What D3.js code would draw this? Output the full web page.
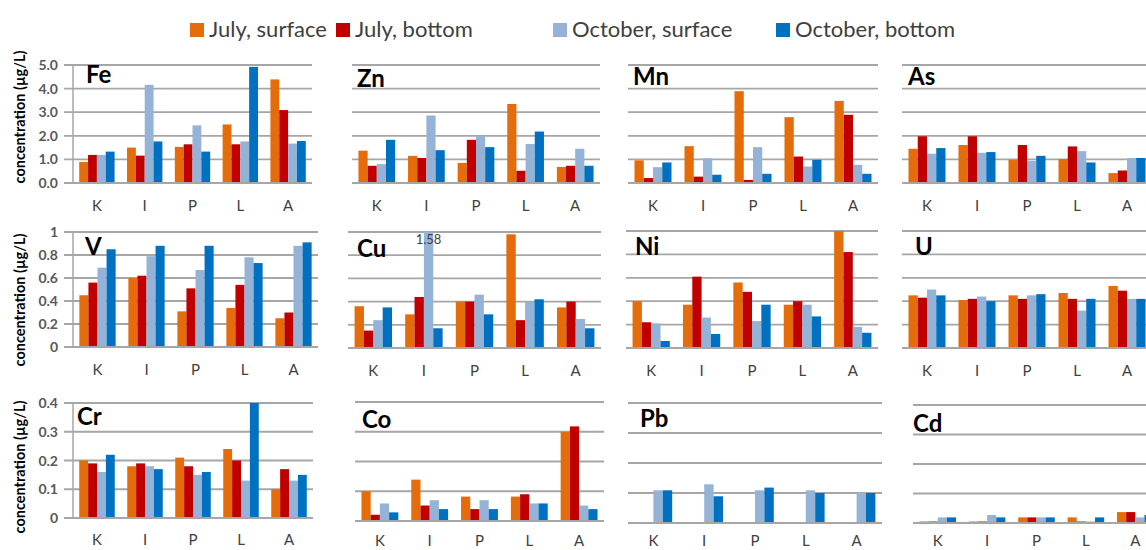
<!DOCTYPE html>
<html>
<head>
<meta charset="utf-8">
<script src="https://cdn.jsdelivr.net/npm/d3@7"></script>
<style>
  body { margin: 0; background: #fff; }
  text { font-family: Lato, "Open Sans", sans-serif; }
</style>
</head>
<body>
<svg id="chart" width="1146" height="550"></svg>
<script>
// data
const sites = ['K', 'I', 'P', 'L', 'A'];
const seriesNames = ['July, surface', 'July, bottom', 'October, surface', 'October, bottom'];
const elements = ['Fe', 'Zn', 'Mn', 'As', 'V', 'Cu', 'Ni', 'U', 'Cr', 'Co', 'Pb', 'Cd'];

// each element: one row per series, values for K I P L A
const fe = [[0.89, 1.50, 1.53, 2.48, 4.39], [1.19, 1.16, 1.64, 1.64, 3.09], [1.19, 4.16, 2.44, 1.76, 1.67], [1.33, 1.76, 1.33, 4.92, 1.78]];
const zn = [[1.37, 1.15, 0.85, 3.35, 0.68], [0.73, 1.06, 1.83, 0.52, 0.73], [0.80, 2.86, 1.99, 1.65, 1.45], [1.83, 1.39, 1.52, 2.18, 0.73]];
const mn = [[0.96, 1.56, 3.89, 2.79, 3.48], [0.21, 0.27, 0.13, 1.12, 2.89], [0.67, 1.05, 1.52, 0.70, 0.77], [0.87, 0.35, 0.39, 0.98, 0.39]];
const as = [[1.45, 1.61, 0.98, 1.01, 0.42], [1.98, 1.98, 1.61, 1.55, 0.53], [1.24, 1.28, 0.94, 1.35, 1.06], [1.48, 1.31, 1.15, 0.87, 1.06]];
const v = [[0.45, 0.60, 0.31, 0.34, 0.25], [0.56, 0.62, 0.51, 0.54, 0.30], [0.69, 0.79, 0.67, 0.78, 0.88], [0.85, 0.88, 0.88, 0.73, 0.91]];
const cu = [[0.36, 0.29, 0.40, 0.98, 0.35], [0.15, 0.44, 0.40, 0.24, 0.40], [0.24, 1.58, 0.46, 0.40, 0.25], [0.35, 0.17, 0.29, 0.42, 0.17]];
const ni = [[0.40, 0.37, 0.56, 0.37, 1.00], [0.22, 0.61, 0.48, 0.40, 0.82], [0.21, 0.26, 0.23, 0.37, 0.18], [0.06, 0.12, 0.37, 0.27, 0.13]];
const u = [[0.45, 0.41, 0.45, 0.47, 0.53], [0.43, 0.42, 0.42, 0.42, 0.49], [0.50, 0.44, 0.45, 0.32, 0.42], [0.45, 0.40, 0.46, 0.42, 0.42]];
const cr = [[0.20, 0.18, 0.21, 0.24, 0.10], [0.19, 0.19, 0.18, 0.20, 0.17], [0.16, 0.18, 0.15, 0.13, 0.13], [0.22, 0.17, 0.16, 0.40, 0.15]];
const co = [[0.100, 0.139, 0.082, 0.082, 0.300], [0.021, 0.052, 0.040, 0.090, 0.318], [0.059, 0.070, 0.070, 0.059, 0.052], [0.029, 0.040, 0.040, 0.059, 0.040]];
const pb = [[0, 0, 0, 0, 0], [0, 0, 0, 0, 0], [0.109, 0.129, 0.109, 0.109, 0.100], [0.109, 0.089, 0.118, 0.100, 0.100]];
const cd = [[0.005, 0.005, 0.019, 0.019, 0.037], [0.005, 0.005, 0.019, 0.005, 0.037], [0.019, 0.027, 0.019, 0.005, 0.019], [0.019, 0.019, 0.019, 0.019, 0.027]];
const values = [fe, zn, mn, as, v, cu, ni, u, cr, co, pb, cd];

// y axis per row
const rowMax = [5, 1, 0.4];
const rowTicks = [[0, 1, 2, 3, 4, 5], [0, 0.2, 0.4, 0.6, 0.8, 1], [0, 0.1, 0.2, 0.3, 0.4]];
const rowTickFormat = [d3.format('.1f'), d => d === 0 || d === 1 ? String(d) : d3.format('.1f')(d), d => d === 0 ? '0' : d3.format('.1f')(d)];

const colors = ['#E46C0A', '#C00000', '#95B3D7', '#0070C0'];

// layout: plot box of each panel [x0, x1, yTop, yBottom]
const boxes = [
    [73, 312, 65, 183], [352, 600, 65, 183], [628, 878, 65, 183], [902, 1152, 65, 183],
    [73, 318, 232, 347], [348, 601, 232, 348], [626, 878, 231, 348], [902, 1152, 231, 348],
    [73, 313, 403, 518], [355, 604, 402, 521], [628, 882, 403, 523], [913, 1160, 405, 523]
];
// title baseline position
const titlePos = [
    [86, 83], [357, 87], [633, 85], [908, 85],
    [85, 255], [357, 257], [635, 255], [915, 255],
    [77, 425], [362, 428], [640, 427], [913, 432]
];
const yTitleCenter = [117, 300, 467];

const svg = d3.select('#chart');
const gridColor = '#A6A6A6';

elements.forEach((el, i) => {
    const row = Math.floor(i / 4), col = i % 4;
    const [x0, x1, y0, y1] = boxes[i];
    const g = svg.append('g').attr('class', 'panel');

    const x = d3.scaleBand().domain(sites).range([x0, x1]).paddingInner(0.26).paddingOuter(0.13);
    const xs = d3.scaleBand().domain(d3.range(4)).range([0, x.bandwidth()]);
    const y = d3.scaleLinear().domain([0, rowMax[row]]).range([y1, y0]).clamp(true);

    // gridlines
    g.selectAll('.grid')
        .data(rowTicks[row].slice(1))
        .enter()
        .append('line')
        .attr('x1', col === 0 ? x0 - 9 : x0)
        .attr('x2', x1)
        .attr('y1', d => y(d))
        .attr('y2', d => y(d))
        .attr('stroke', gridColor)
        .attr('stroke-width', 1.8);

    // bars
    const groups = g.selectAll('.site')
        .data(sites)
        .enter()
        .append('g')
        .attr('transform', d => `translate(${x(d)},0)`);

    groups.selectAll('rect')
        .data((s, si) => values[i].map((ser, k) => ({ k: k, v: ser[si] })))
        .enter()
        .append('rect')
        .attr('x', d => xs(d.k))
        .attr('width', xs.bandwidth())
        .attr('y', d => y(d.v))
        .attr('height', d => y1 - y(d.v))
        .attr('fill', d => colors[d.k]);

    // baseline axis
    g.append('line')
        .attr('x1', col === 0 ? x0 - 9 : x0).attr('x2', x1)
        .attr('y1', y1).attr('y2', y1)
        .attr('stroke', gridColor).attr('stroke-width', 2);

    // category labels
    g.selectAll('.cat')
        .data(sites)
        .enter()
        .append('text')
        .attr('x', d => x(d) + x.bandwidth() / 2)
        .attr('y', row === 2 ? Math.min(y1 + 27, 546) : y1 + 28)
        .attr('text-anchor', 'middle')
        .attr('font-size', 15)
        .attr('fill', '#404040')
        .text(d => d);

    // y axis for first column
    if (col === 0) {
        g.append('line')
            .attr('x1', x0).attr('x2', x0)
            .attr('y1', y0).attr('y2', y1)
            .attr('stroke', gridColor).attr('stroke-width', 1.5);
        g.selectAll('.ytick')
            .data(rowTicks[row])
            .enter()
            .append('text')
            .attr('x', x0 - 15)
            .attr('y', d => y(d) + 5)
            .attr('text-anchor', 'end')
            .attr('font-size', 14)
            .attr('font-weight', 'bold')
            .attr('fill', '#595959')
            .text(rowTickFormat[row]);
        svg.append('text')
            .attr('transform', `translate(25,${yTitleCenter[row]}) rotate(-90)`)
            .attr('text-anchor', 'middle')
            .attr('font-size', 14.5)
            .attr('font-weight', 'bold')
            .attr('fill', '#000')
            .text('concentration (µg/L)');
    }

    // panel title
    g.append('text')
        .attr('x', titlePos[i][0])
        .attr('y', titlePos[i][1])
        .attr('font-size', 24)
        .attr('font-weight', 'bold')
        .attr('fill', '#000')
        .text(el);

    // label for clipped bar
    values[i].forEach((ser, k) => {
        ser.forEach((val, si) => {
            if (val > rowMax[row]) {
                g.append('text')
                    .attr('x', x(sites[si]) + xs(k) + xs.bandwidth() / 2)
                    .attr('y', y0 + 12)
                    .attr('text-anchor', 'middle')
                    .attr('font-size', 13)
                    .attr('fill', '#404040')
                    .text(val);
            }
        });
    });
});

// legend
const legendX = [190, 336, 553, 776];
const legend = svg.append('g')
    .selectAll('.legend')
    .data(seriesNames)
    .enter()
    .append('g')
    .attr('transform', (d, i) => `translate(${legendX[i]},23)`);
legend.append('rect')
    .attr('width', 14).attr('height', 14)
    .attr('fill', (d, i) => colors[i]);
legend.append('text')
    .attr('x', 19)
    .attr('y', 14)
    .attr('font-size', 22)
    .attr('fill', '#404040')
    .text(d => d);
</script>
</body>
</html>
